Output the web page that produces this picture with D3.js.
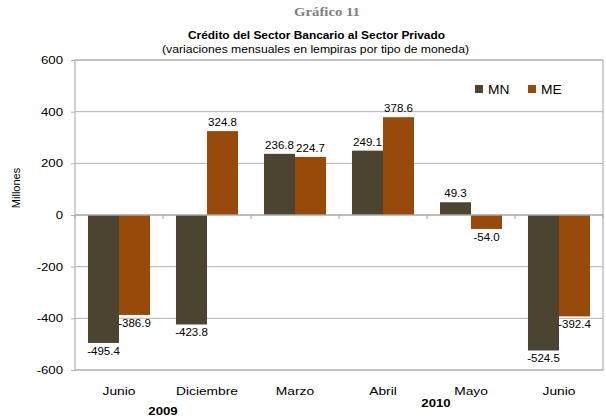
<!DOCTYPE html>
<html>
<head>
<meta charset="utf-8">
<script src="https://cdn.jsdelivr.net/npm/d3@7"></script>
<style>
  body { margin: 0; background: #fff; }
  svg { display: block; font-family: "Liberation Sans", Arial, sans-serif; }
</style>
</head>
<body>
<svg id="chart" width="606" height="419"></svg>
<script>
const categories = ["Junio", "Diciembre", "Marzo", "Abril", "Mayo", "Junio"];
const seriesNames = ["MN", "ME"];
const valuesMN = [-495.4, -423.8, 236.8, 249.1, 49.3, -524.5];
const valuesME = [-386.9, 324.8, 224.7, 378.6, -54.0, -392.4];
const yTicks = [-600, -400, -200, 0, 200, 400, 600];
const yearLabels = ["2009", "2010"];
const colors = { MN: "#4a4430", ME: "#984a0a" };

const svg = d3.select("#chart");
const plotLeft = 75, plotRight = 603, plotTop = 60, plotBottom = 370;

const x = d3.scaleBand().domain(d3.range(categories.length)).range([plotLeft, plotRight])
  .paddingInner(0.295).paddingOuter(0.1475);
const xs = d3.scaleBand().domain(seriesNames).range([0, x.bandwidth()]);
const y = d3.scaleLinear().domain([-600, 600]).range([plotBottom, plotTop]);

// text with the slight horizontal stretch of the original
function addText(g, px, py, str, size, sx, anchor, weight) {
  return g.append("text")
    .attr("transform", `translate(${px},${py}) scale(${sx},1)`)
    .attr("text-anchor", anchor || "middle")
    .style("font-size", size + "px")
    .style("font-weight", weight || "normal")
    .attr("fill", "#000")
    .text(str);
}

// titles
svg.append("text").attr("x", 327).attr("y", 16).attr("text-anchor", "middle")
  .attr("textLength", 66).attr("lengthAdjust", "spacingAndGlyphs")
  .style("font-family", "'Liberation Serif', 'Times New Roman', serif")
  .style("font-size", "12px").style("font-weight", "bold").attr("fill", "#7f7f7f")
  .text("Gráfico 11");
svg.append("text").attr("x", 316.5).attr("y", 39).attr("text-anchor", "middle")
  .attr("textLength", 257).attr("lengthAdjust", "spacingAndGlyphs")
  .style("font-size", "11.5px").style("font-weight", "bold")
  .text("Crédito del Sector Bancario al Sector Privado");
svg.append("text").attr("x", 315.5).attr("y", 52.5).attr("text-anchor", "middle")
  .attr("textLength", 307).attr("lengthAdjust", "spacingAndGlyphs")
  .style("font-size", "11.5px")
  .text("(variaciones mensuales en lempiras por tipo de moneda)");

// gridlines and frame
svg.append("g").selectAll("line").data(yTicks.filter(d => d !== 0)).join("line")
  .attr("x1", plotLeft).attr("x2", plotRight)
  .attr("y1", d => y(d)).attr("y2", d => y(d))
  .attr("stroke", "#b2b2b2").attr("stroke-width", 1);
svg.append("rect").attr("x", plotLeft).attr("y", plotTop)
  .attr("width", plotRight - plotLeft).attr("height", plotBottom - plotTop)
  .attr("fill", "none").attr("stroke", "#b2b2b2").attr("stroke-width", 1.2);

// y axis
const yAxis = svg.append("g").attr("transform", `translate(${plotLeft},0)`)
  .call(d3.axisLeft(y).tickValues(yTicks).tickSize(4).tickPadding(0)
    .tickFormat(d => String(d)));
yAxis.select(".domain").remove();
yAxis.selectAll(".tick line").attr("stroke", "#b2b2b2");
yAxis.selectAll(".tick text")
  .attr("x", -12 / 1.2).attr("transform", "scale(1.2,1)")
  .style("font-size", "11px").style("font-family", "'Liberation Sans', Arial, sans-serif")
  .attr("fill", "#000");

svg.append("text")
  .attr("transform", `translate(20,188) rotate(-90)`)
  .attr("text-anchor", "middle").style("font-size", "11px")
  .text("Millones");

// bars
const data = categories.map((c, i) => ({ i, MN: valuesMN[i], ME: valuesME[i] }));
const groups = svg.append("g").selectAll("g").data(data).join("g")
  .attr("transform", d => `translate(${x(d.i)},0)`);
groups.selectAll("rect")
  .data(d => seriesNames.map(s => ({ s, v: d[s] })))
  .join("rect")
  .attr("x", d => xs(d.s))
  .attr("width", xs.bandwidth())
  .attr("y", d => y(Math.max(0, d.v)))
  .attr("height", d => Math.abs(y(d.v) - y(0)))
  .attr("fill", d => colors[d.s]);

groups.selectAll("g.lbl")
  .data(d => seriesNames.map(s => ({ s, v: d[s] })))
  .join("g").attr("class", "lbl")
  .each(function (d) {
    const cx = xs(d.s) + xs.bandwidth() / 2;
    const cy = d.v >= 0 ? y(d.v) - 5 : y(d.v) + 12;
    addText(d3.select(this), cx, cy, d.v.toFixed(1), 10.5, 1.1);
  });

// zero line with category separators
const zero = svg.append("g");
zero.append("line").attr("x1", plotLeft).attr("x2", plotRight)
  .attr("y1", y(0)).attr("y2", y(0))
  .attr("stroke", "#a6a6a6").attr("stroke-width", 1.5);
zero.selectAll("line.sep").data(d3.range(categories.length + 1)).join("line")
  .attr("class", "sep")
  .attr("x1", i => plotLeft + i * x.step()).attr("x2", i => plotLeft + i * x.step())
  .attr("y1", y(0)).attr("y2", y(0) + 4)
  .attr("stroke", "#a6a6a6");

// category labels
const catG = svg.append("g");
categories.forEach((c, i) => {
  addText(catG, x(i) + x.bandwidth() / 2, 395, c, 11.5, 1.2);
});

// year labels: 2009 sits on the Junio/Diciembre boundary, 2010 just right of Abril/Mayo
addText(catG, plotLeft + x.step(), 415, yearLabels[0], 11, 1.2, "middle", "bold");
addText(catG, plotLeft + 4 * x.step() + 9, 407, yearLabels[1], 11, 1.2, "middle", "bold");

// legend
const legend = svg.append("g");
const legendX = { MN: 475, ME: 528 };
seriesNames.forEach(s => {
  legend.append("rect").attr("x", legendX[s]).attr("y", 85)
    .attr("width", 8).attr("height", 8).attr("fill", colors[s]);
  addText(legend, legendX[s] + 13, 93.5, s, 12, 1.15, "start");
});
</script>
</body>
</html>
